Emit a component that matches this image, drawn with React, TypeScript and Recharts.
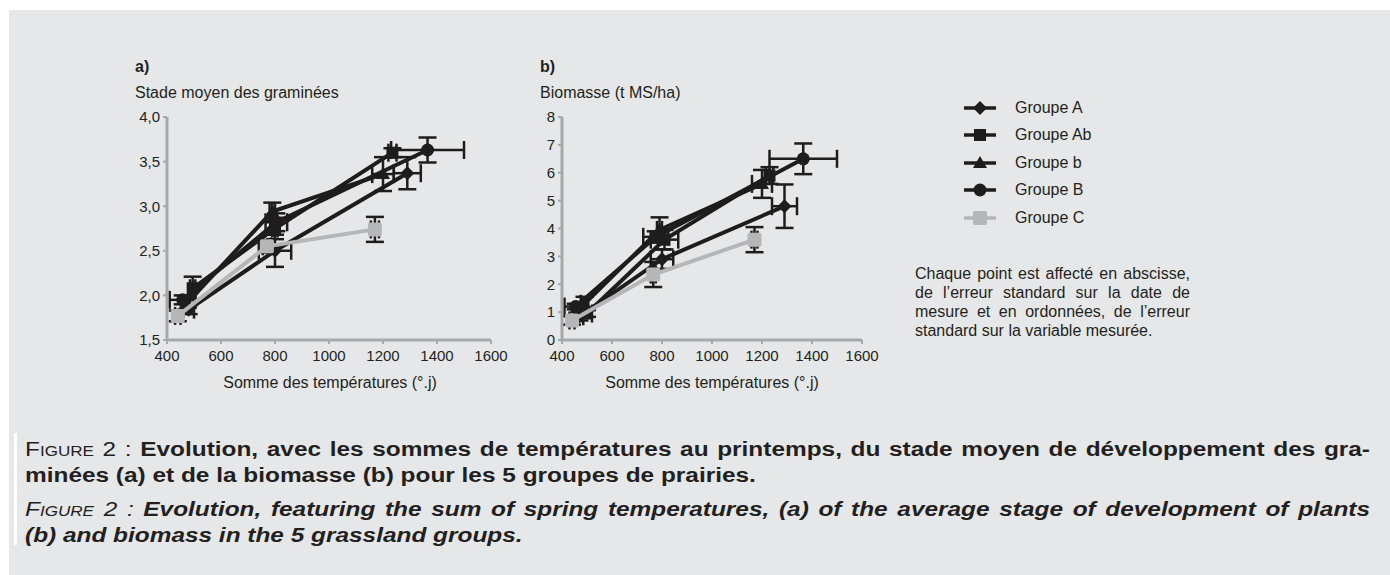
import React from 'react';
import { ScatterChart, Scatter, XAxis, YAxis, ErrorBar } from 'recharts';

const FONT = '"Liberation Sans", Arial, Helvetica, sans-serif';
const INK = '#1f1c1d';
const GREY_SERIES = '#b5b6b8';
const AXIS = '#a6a8ab';
const PANEL_BG = '#e6e7e8';
const TEXT = '#231f20';

const groupNames = ['Groupe A', 'Groupe Ab', 'Groupe b', 'Groupe B', 'Groupe C'];
const groupShapes = ['diamond', 'square', 'triangle', 'circle', 'cross'];

const xTicks = [400, 600, 800, 1000, 1200, 1400, 1600];
const stageTicks = [1.5, 2, 2.5, 3, 3.5, 4];
const biomassTicks = [0, 1, 2, 3, 4, 5, 6, 7, 8];

const noteLines = [
  'Chaque point est affecté en abscisse,',
  'de l’erreur standard sur la date de',
  'mesure et en ordonnées, de l’erreur',
  'standard sur la variable mesurée.',
];

// a) Stade moyen des graminées : x = somme des températures, ex = erreur std x, ey = erreur std y
const stageA = [
  { x: 480, y: 1.84, ex: 20, ey: 0.05 },
  { x: 800, y: 2.5, ex: 60, ey: 0.18 },
  { x: 1290, y: 3.37, ex: 50, ey: 0.18 },
];
const stageAb = [
  { x: 495, y: 2.08, ex: 10, ey: 0.13 },
  { x: 800, y: 2.75, ex: 10, ey: 0.12 },
  { x: 1235, y: 3.6, ex: 15, ey: 0.05 },
];
const stageb = [
  { x: 470, y: 1.9, ex: 15, ey: 0.06 },
  { x: 790, y: 2.94, ex: 10, ey: 0.1 },
  { x: 1200, y: 3.36, ex: 40, ey: 0.19 },
];
const stageB = [
  { x: 458, y: 1.95, ex: 48, ey: 0.05 },
  { x: 805, y: 2.82, ex: 40, ey: 0.1 },
  { x: 1365, y: 3.63, ex: 135, ey: 0.14 },
];
const stageC = [
  { x: 440, y: 1.77, ex: 10, ey: 0.06 },
  { x: 770, y: 2.55, ex: 15, ey: 0.07 },
  { x: 1170, y: 2.74, ex: 15, ey: 0.14 },
];

// b) Biomasse (t MS/ha)
const bioA = [
  { x: 470, y: 0.85, ex: 15, ey: 0.15 },
  { x: 800, y: 2.9, ex: 45, ey: 0.35 },
  { x: 1290, y: 4.8, ex: 50, ey: 0.78 },
];
const bioAb = [
  { x: 500, y: 0.95, ex: 20, ey: 0.12 },
  { x: 810, y: 3.6, ex: 55, ey: 0.35 },
  { x: 1230, y: 5.9, ex: 15, ey: 0.3 },
];
const biob = [
  { x: 490, y: 1.3, ex: 15, ey: 0.25 },
  { x: 790, y: 3.95, ex: 10, ey: 0.45 },
  { x: 1200, y: 5.6, ex: 40, ey: 0.5 },
];
const bioB = [
  { x: 455, y: 1.2, ex: 45, ey: 0.1 },
  { x: 775, y: 3.7, ex: 50, ey: 0.2 },
  { x: 1365, y: 6.5, ex: 135, ey: 0.55 },
];
const bioC = [
  { x: 440, y: 0.7, ex: 10, ey: 0.15 },
  { x: 765, y: 2.35, ex: 10, ey: 0.45 },
  { x: 1170, y: 3.6, ex: 12, ey: 0.45 },
];

const stageSeries = [stageA, stageAb, stageb, stageB, stageC];
const bioSeries = [bioA, bioAb, biob, bioB, bioC];

function marker(kind: string, cx: number, cy: number, key?: string) {
  if (kind === 'diamond') {
    const s = 7;
    return <polygon key={key} points={`${cx},${cy - s} ${cx + s},${cy} ${cx},${cy + s} ${cx - s},${cy}`} fill={INK} />;
  }
  if (kind === 'square') {
    return <rect key={key} x={cx - 6} y={cy - 6} width={12} height={12} fill={INK} />;
  }
  if (kind === 'triangle') {
    return <polygon key={key} points={`${cx},${cy - 7} ${cx + 7},${cy + 5} ${cx - 7},${cy + 5}`} fill={INK} />;
  }
  if (kind === 'circle') {
    return <circle key={key} cx={cx} cy={cy} r={6.5} fill={INK} />;
  }
  return <rect key={key} x={cx - 7} y={cy - 7} width={14} height={14} rx={2} fill={GREY_SERIES} />;
}

const shapeFn = (kind: string) => (props: any) => {
  const { cx, cy } = props;
  if (cx == null || cy == null) return <g />;
  return marker(kind, cx, cy);
};

const fmtStage = (v: number) => v.toFixed(1).replace('.', ',');

function Panel(props: {
  left: number;
  width: number;
  series: any[][];
  domain: [number, number];
  ticks: number[];
  fmt?: (v: number) => string;
}) {
  const { left, width, series, domain, ticks, fmt } = props;
  return (
    <div style={{ position: 'absolute', left, top: 100 }}>
      <ScatterChart width={width} height={275} margin={{ top: 17, right: 20, bottom: 5, left: 0 }}>
        <XAxis
          type="number"
          dataKey="x"
          domain={[400, 1600]}
          ticks={xTicks}
          allowDataOverflow
          height={30}
          axisLine={{ stroke: AXIS, strokeWidth: 3 }}
          tickLine={{ stroke: AXIS, strokeWidth: 2 }}
          tickSize={4}
          tickMargin={6}
          tick={{ fontSize: 15, fill: TEXT, fontFamily: FONT }}
        />
        <YAxis
          type="number"
          dataKey="y"
          domain={domain}
          ticks={ticks}
          allowDataOverflow
          width={67}
          axisLine={{ stroke: AXIS, strokeWidth: 3 }}
          tickLine={{ stroke: AXIS, strokeWidth: 2 }}
          tickSize={4}
          tickMargin={3}
          tickFormatter={fmt}
          tick={{ fontSize: 15, fill: TEXT, fontFamily: FONT }}
        />
        {series.map((data, i) => (
          <Scatter
            key={groupNames[i]}
            name={groupNames[i]}
            data={data}
            fill={i === 4 ? GREY_SERIES : INK}
            line={{ stroke: i === 4 ? GREY_SERIES : INK, strokeWidth: 4 }}
            lineType="joint"
            shape={shapeFn(groupShapes[i])}
            isAnimationActive={false}
          >
            <ErrorBar dataKey="ex" direction="x" width={9} stroke={INK} strokeWidth={2.5} isAnimationActive={false} />
            <ErrorBar dataKey="ey" direction="y" width={9} stroke={INK} strokeWidth={2.5} isAnimationActive={false} />
          </Scatter>
        ))}
      </ScatterChart>
    </div>
  );
}

const abs = (s: React.CSSProperties): React.CSSProperties => ({ position: 'absolute', ...s });

const CAPTION_SCALE = 1.22;
const CAPTION_WIDTH = 1345;

export default function App() {
  const legendRows = [108, 135, 163, 190, 218];
  const innerW = CAPTION_WIDTH / CAPTION_SCALE;
  const justified: React.CSSProperties = { whiteSpace: 'nowrap', textAlign: 'justify', textAlignLast: 'justify' };
  return (
    <div style={{ fontFamily: FONT, color: TEXT }}>
      <div style={abs({ left: 9, top: 10, width: 1381, height: 565, background: PANEL_BG })} />

      <div style={abs({ left: 135, top: 58, fontSize: 16, fontWeight: 'bold', lineHeight: '18px' })}>a)</div>
      <div style={abs({ left: 135, top: 84, fontSize: 16, lineHeight: '18px' })}>Stade moyen des graminées</div>
      <div style={abs({ left: 540, top: 58, fontSize: 16, fontWeight: 'bold', lineHeight: '18px' })}>b)</div>
      <div style={abs({ left: 540, top: 84, fontSize: 16, lineHeight: '18px' })}>Biomasse (t MS/ha)</div>

      <Panel left={100} width={411} series={stageSeries} domain={[1.5, 4]} ticks={stageTicks} fmt={fmtStage} />
      <Panel left={495} width={387} series={bioSeries} domain={[0, 8]} ticks={biomassTicks} />

      <div style={abs({ left: 180, width: 300, top: 374, fontSize: 16, lineHeight: '18px', textAlign: 'center', whiteSpace: 'nowrap' })}>
        Somme des températures (°.j)
      </div>
      <div style={abs({ left: 562, width: 300, top: 374, fontSize: 16, lineHeight: '18px', textAlign: 'center', whiteSpace: 'nowrap' })}>
        Somme des températures (°.j)
      </div>

      {groupNames.map((g, i) => (
        <React.Fragment key={g}>
          <svg style={abs({ left: 962, top: legendRows[i] - 8 })} width={36} height={16}>
            <line x1={2} y1={8} x2={34} y2={8} stroke={i === 4 ? GREY_SERIES : INK} strokeWidth={3.5} />
            {marker(groupShapes[i], 18, 8)}
          </svg>
          <div style={abs({ left: 1015, top: legendRows[i] - 9, fontSize: 16, lineHeight: '18px' })}>{g}</div>
        </React.Fragment>
      ))}

      <div style={abs({ left: 915, top: 264, width: 275, fontSize: 16, lineHeight: '19px' })}>
        {noteLines.map((l, i) => (
          <div
            key={i}
            style={{ whiteSpace: 'nowrap', textAlign: 'justify', textAlignLast: i < noteLines.length - 1 ? 'justify' : 'left' }}
          >
            {l}
          </div>
        ))}
      </div>

      <div style={abs({ left: 14, top: 433, width: 3, height: 112, background: '#ffffff' })} />
      <div
        style={abs({
          left: 25,
          top: 436,
          width: innerW,
          fontSize: 20,
          lineHeight: '26px',
          transform: `scaleX(${CAPTION_SCALE})`,
          transformOrigin: '0 0',
        })}
      >
        <div style={justified}>
          <span style={{ fontVariant: 'small-caps' }}>Figure</span> 2 :{' '}
          <b>Evolution, avec les sommes de températures au printemps, du stade moyen de développement des gra-</b>
        </div>
        <div style={{ whiteSpace: 'nowrap' }}>
          <b>minées (a) et de la biomasse (b) pour les 5 groupes de prairies.</b>
        </div>
        <div style={{ ...justified, marginTop: 8, fontStyle: 'italic' }}>
          <span style={{ fontVariant: 'small-caps' }}>Figure</span> 2 :{' '}
          <b>Evolution, featuring the sum of spring temperatures, (a) of the average stage of development of plants</b>
        </div>
        <div style={{ whiteSpace: 'nowrap', fontStyle: 'italic' }}>
          <b>(b) and biomass in the 5 grassland groups.</b>
        </div>
      </div>
    </div>
  );
}
